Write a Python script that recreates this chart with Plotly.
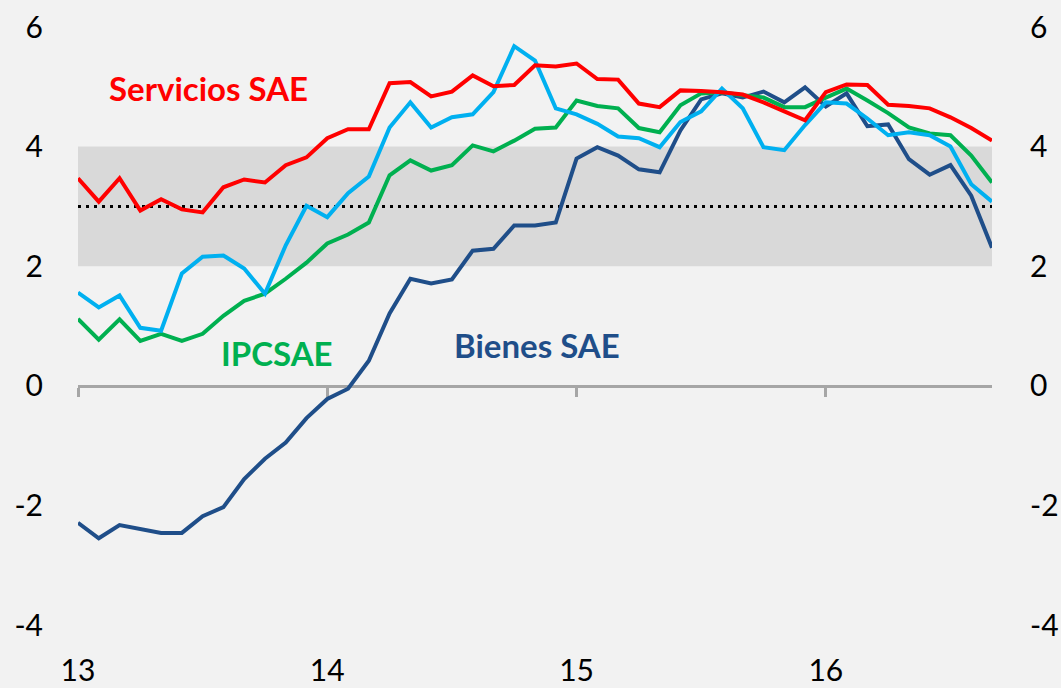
import plotly.graph_objects as go

# Monthly data, Jan 2013 .. Sep 2016 (45 months)
months = list(range(45))
year_tick_pos = [0, 12, 24, 36]
year_tick_labels = ["13", "14", "15", "16"]
y_ticks = [-4, -2, 0, 2, 4, 6]
y_tick_labels = ["-4", "-2", "0", "2", "4", "6"]

servicios_sae = [3.47, 3.08, 3.47, 2.93, 3.12, 2.95, 2.90, 3.32, 3.45, 3.40,
                 3.69, 3.82, 4.14, 4.29, 4.29, 5.06, 5.08, 4.84, 4.92, 5.19,
                 5.01, 5.03, 5.36, 5.34, 5.39, 5.13, 5.12, 4.72, 4.66, 4.94,
                 4.93, 4.91, 4.87, 4.74, 4.59, 4.44, 4.91, 5.04, 5.03, 4.70,
                 4.68, 4.64, 4.49, 4.31, 4.10]
ipc = [1.56, 1.31, 1.51, 0.97, 0.92, 1.88, 2.16, 2.18, 1.96, 1.54,
       2.35, 3.01, 2.82, 3.22, 3.50, 4.32, 4.74, 4.32, 4.49, 4.54,
       4.91, 5.68, 5.44, 4.64, 4.54, 4.38, 4.17, 4.14, 3.99, 4.41,
       4.59, 4.97, 4.64, 3.99, 3.94, 4.36, 4.74, 4.72, 4.47, 4.19,
       4.24, 4.19, 4.00, 3.37, 3.08]
ipcsae = [1.12, 0.77, 1.11, 0.75, 0.87, 0.75, 0.87, 1.17, 1.42, 1.54,
          1.79, 2.06, 2.38, 2.53, 2.73, 3.52, 3.77, 3.60, 3.69, 4.02,
          3.92, 4.10, 4.30, 4.32, 4.77, 4.68, 4.64, 4.31, 4.24, 4.69,
          4.89, 4.91, 4.86, 4.82, 4.66, 4.66, 4.82, 4.97, 4.77, 4.56,
          4.32, 4.22, 4.19, 3.85, 3.40]
bienes_sae = [-2.29, -2.55, -2.33, -2.40, -2.46, -2.46, -2.18, -2.03, -1.56, -1.22,
              -0.95, -0.54, -0.22, -0.05, 0.42, 1.21, 1.79, 1.71, 1.78, 2.26,
              2.29, 2.68, 2.68, 2.73, 3.80, 3.99, 3.85, 3.62, 3.57, 4.27,
              4.79, 4.89, 4.82, 4.92, 4.74, 4.99, 4.67, 4.89, 4.34, 4.37,
              3.79, 3.53, 3.69, 3.18, 2.31]

target_low, target_mid, target_high = 2, 3, 4

C_RED = "#FF0000"
C_LBLUE = "#00B0F0"
C_GREEN = "#00B050"
C_DBLUE = "#1F4E89"
BG = "#F2F2F2"
FONT = "Lato"

fig = go.Figure()
series = [
    ("Bienes SAE", bienes_sae, C_DBLUE),
    ("IPCSAE", ipcsae, C_GREEN),
    ("IPC", ipc, C_LBLUE),
    ("Servicios SAE", servicios_sae, C_RED),
]
for name, vals, col in series:
    fig.add_trace(go.Scatter(x=months, y=vals, mode="lines", name=name,
                             line=dict(color=col, width=4), showlegend=False,
                             hoverinfo="skip"))

# target band and dotted mid line
fig.add_shape(type="rect", xref="x", yref="y", x0=months[0], x1=months[-1],
              y0=target_low, y1=target_high, fillcolor="#D9D9D9",
              line=dict(width=0), layer="below")
fig.add_shape(type="line", xref="x", yref="y", x0=months[0], x1=months[-1],
              y0=target_mid, y1=target_mid,
              line=dict(color="black", width=3, dash="3px,5px"), layer="below")

ann_font = dict(family=FONT, size=33)
labels = [
    ("Servicios SAE", 6.3, 4.98, C_RED),
    ("IPC", 24.4, 6.02, C_LBLUE),
    ("IPCSAE", 9.6, 0.55, C_GREEN),
    ("Bienes SAE", 22.1, 0.69, C_DBLUE),
]
for txt, xv, yv, col in labels:
    fig.add_annotation(x=xv, y=yv, xref="x", yref="y", text="<b>%s</b>" % txt,
                       showarrow=False, font=dict(color=col, **ann_font),
                       xanchor="center", yanchor="middle")

tick_font = dict(family=FONT, size=30, color="black")
fig.update_layout(
    width=1061, height=688,
    margin=dict(l=78, r=69, t=27, b=63, autoexpand=False),
    paper_bgcolor=BG, plot_bgcolor=BG,
    xaxis=dict(range=[months[0], months[-1]], tickvals=year_tick_pos,
               ticktext=year_tick_labels, showgrid=False, zeroline=False,
               showline=False, ticks="", tickfont=tick_font,
               ticklabelstandoff=25, automargin=False),
    xaxis2=dict(range=[months[0], months[-1]], overlaying="x", anchor="free",
                position=0.4, tickvals=year_tick_pos, showticklabels=False,
                showgrid=False, zeroline=False, showline=True,
                linecolor="#A6A6A6", linewidth=3, ticks="outside",
                ticklen=9, tickwidth=3, tickcolor="#A6A6A6",
                layer="below traces", automargin=False),
    yaxis=dict(range=[-4, 6], tickvals=y_ticks, ticktext=y_tick_labels,
               showgrid=False, zeroline=False, showline=False, ticks="",
               tickfont=tick_font, ticklabelstandoff=34, automargin=False),
    yaxis2=dict(range=[-4, 6], tickvals=y_ticks, ticktext=y_tick_labels,
                overlaying="y", side="right", anchor="x", showgrid=False,
                zeroline=False, showline=False, ticks="", tickfont=tick_font,
                ticklabelstandoff=37, automargin=False),
)
# invisible helper traces so the secondary axes are drawn
fig.add_trace(go.Scatter(x=[months[0]], y=[0], xaxis="x2", yaxis="y",
                         mode="markers", marker=dict(opacity=0),
                         showlegend=False, hoverinfo="skip"))
fig.add_trace(go.Scatter(x=[months[0]], y=[0], xaxis="x", yaxis="y2",
                         mode="markers", marker=dict(opacity=0),
                         showlegend=False, hoverinfo="skip"))

fig.write_html(
    "out.html",
    config={"displayModeBar": False},
    post_script="document.body.style.margin='0';"
                "document.body.style.background='%s';" % BG,
)
